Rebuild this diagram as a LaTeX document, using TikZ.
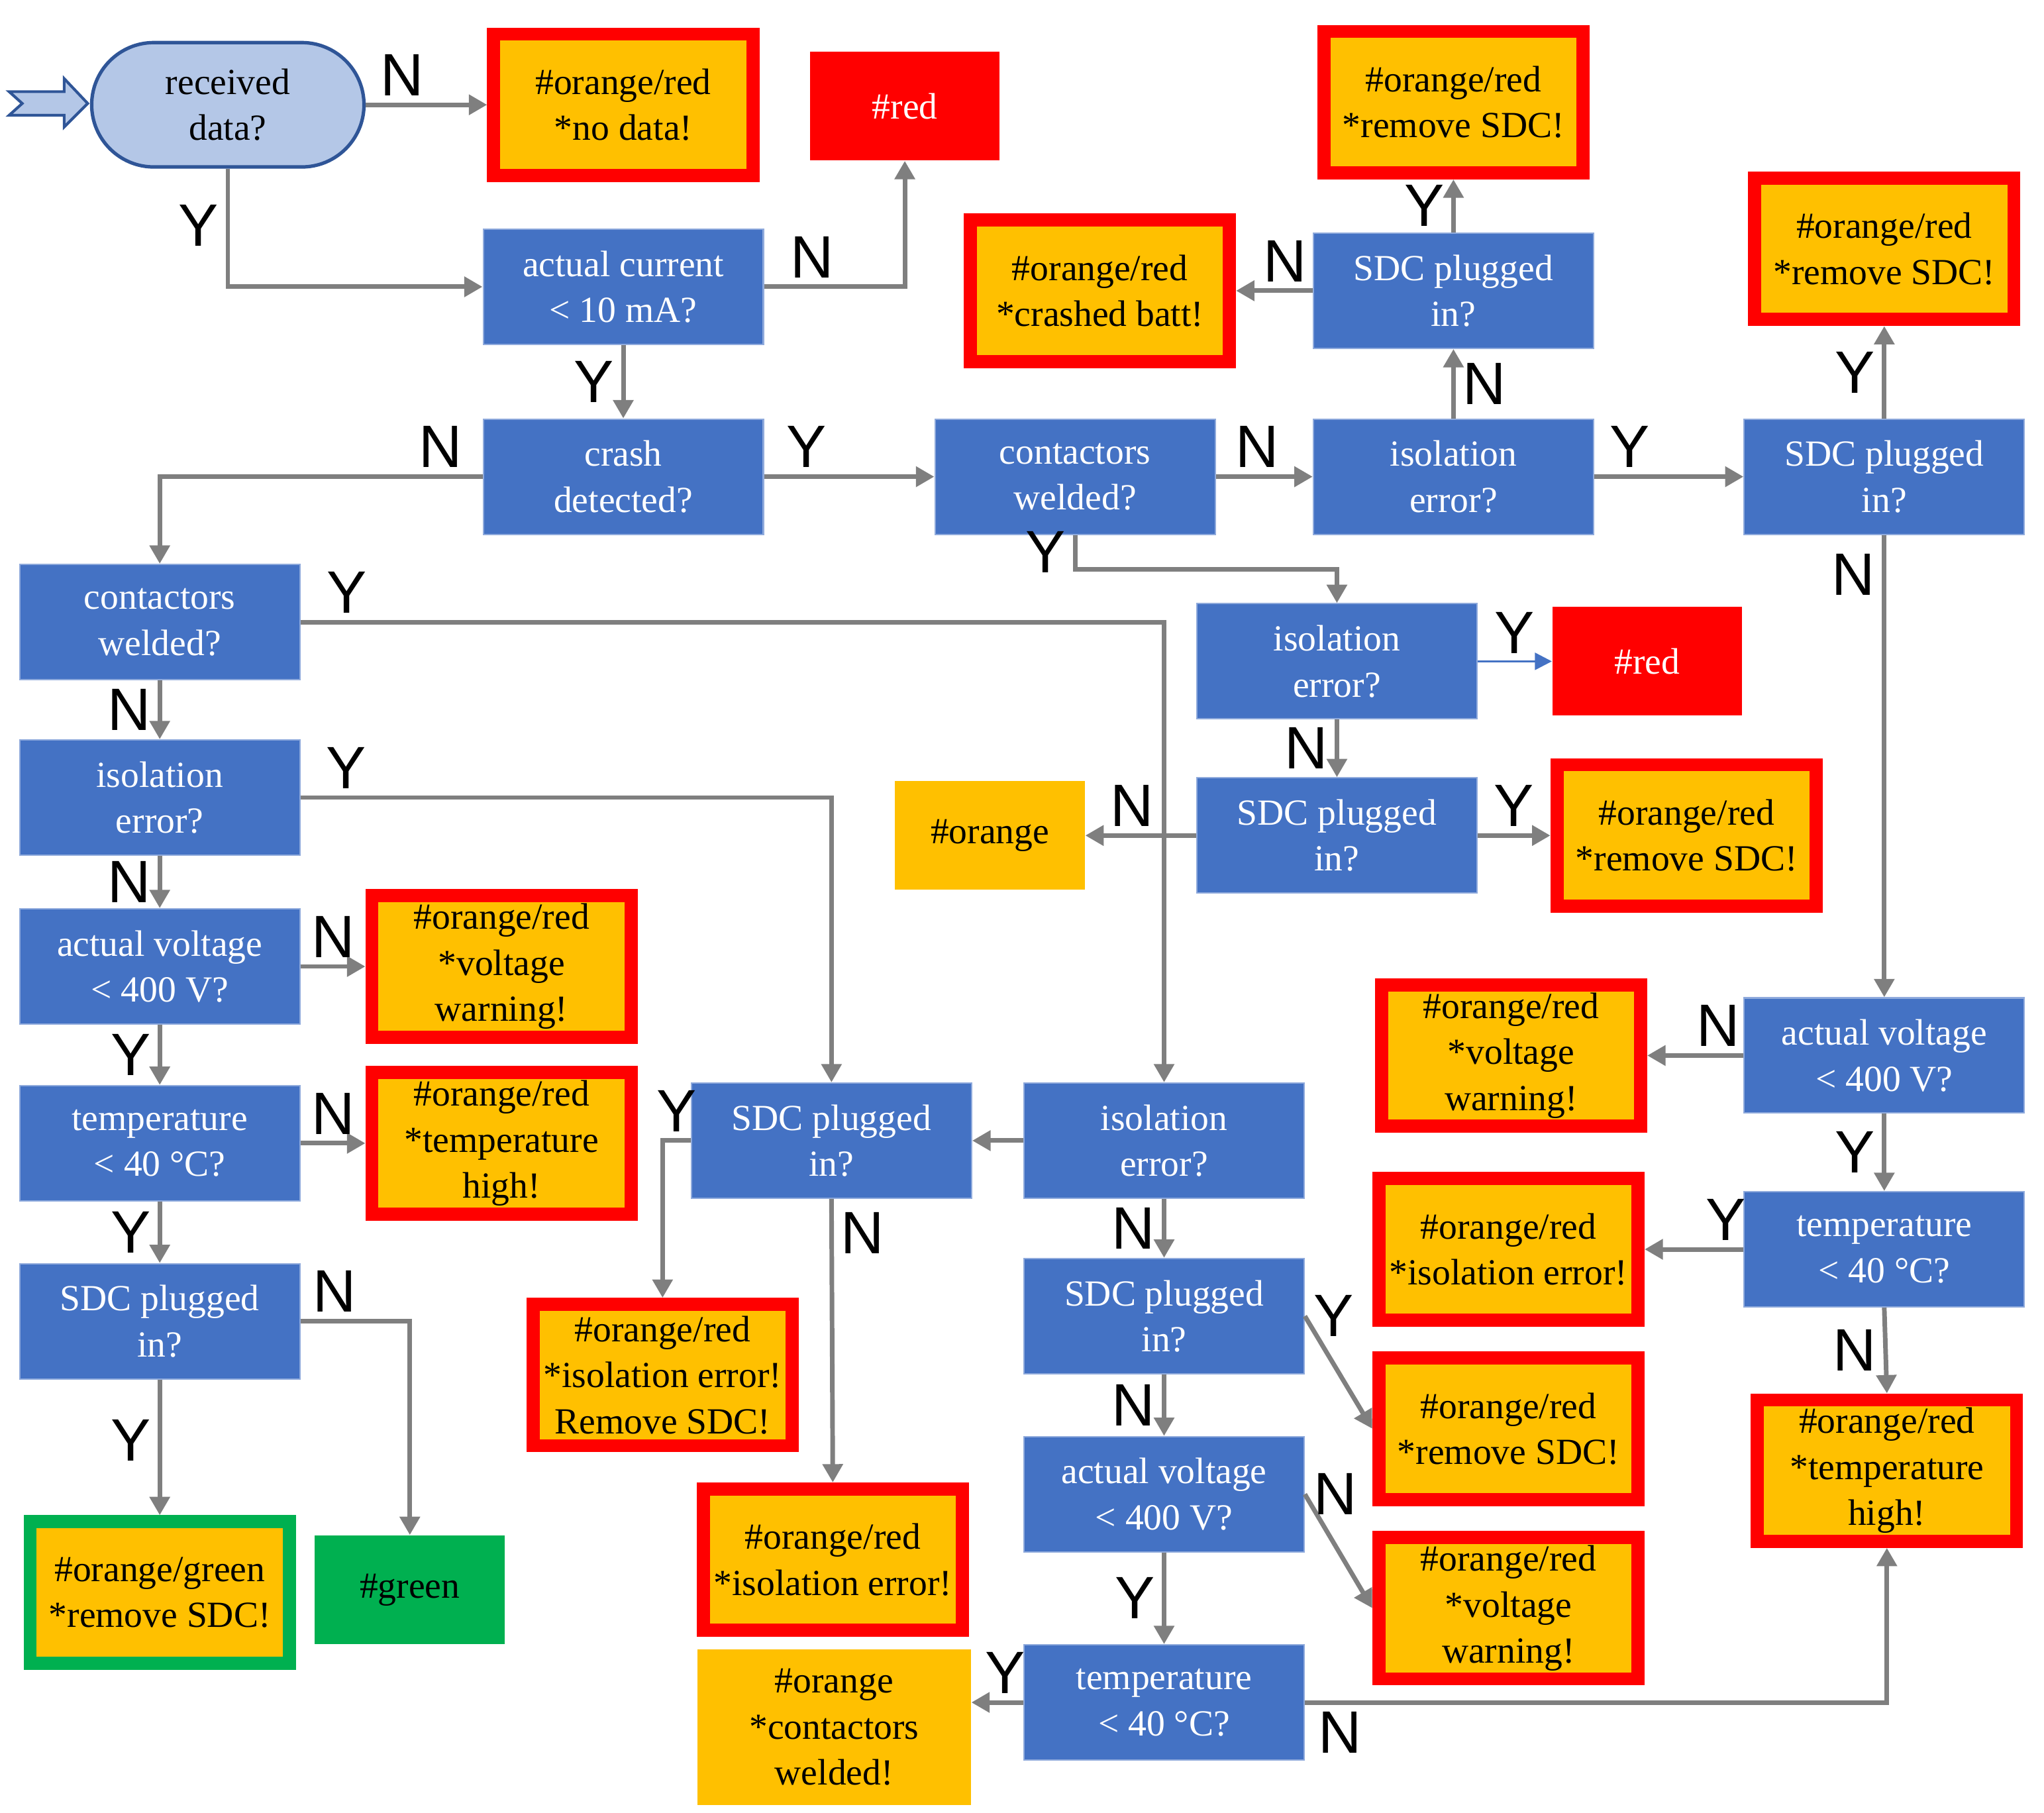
\documentclass[tikz,border=0pt]{standalone}
\usepackage{fontspec}
\setmainfont{Liberation Serif}
\newfontfamily\ynfont{Liberation Sans}
\usetikzlibrary{arrows.meta}
\definecolor{qblue}{HTML}{4472C4}
\definecolor{qedge}{HTML}{8FAADC}
\definecolor{orng}{HTML}{FFC000}
\definecolor{grn}{HTML}{00B050}
\definecolor{gry}{HTML}{7F7F7F}
\definecolor{startfill}{HTML}{B4C7E7}
\definecolor{startedge}{HTML}{2F5597}
\begin{document}
\begin{tikzpicture}[x=0.02cm,y=-0.02cm,
	q/.style={rectangle,fill=qblue,draw=qedge,line width=0.6pt,text=white,
		minimum width=4.28cm,minimum height=1.76cm,inner sep=0pt,align=center,
		font=\fontsize{16}{20}\selectfont},
	warn/.style={rectangle,fill=orng,draw=red,line width=0.2cm,
		minimum width=3.96cm,minimum height=2.16cm,inner sep=0pt,align=center,
		font=\fontsize{16}{20}\selectfont},
	flag/.style={rectangle,minimum width=2.9cm,minimum height=1.66cm,inner sep=0pt,
		align=center,font=\fontsize{16}{20}\selectfont},
	lbl/.style={font={\fontsize{26}{26}\ynfont},inner sep=3pt},
	arr/.style={draw=gry,line width=2pt,-{Triangle[length=0.28cm,width=0.3cm]}}]
	\useasboundingbox (0,0) rectangle (1561,1384);
	\draw[startedge,fill=startfill,line width=1.2pt] (7,70) -- (49,70) -- (49,60)
	-- (67,79) -- (49,97) -- (49,88) -- (7,88) -- (17,79) -- cycle;
	\node[q,fill=startfill,draw=startedge,line width=1.5pt,rounded corners=0.95cm,
		text=black,minimum width=4.16cm,minimum height=1.9cm] (recv) at (174,80) {received\\data?};
	\node[warn] (nodata) at (476,80) {\#orange/red\\*no data!};
	\node[flag,fill=red,text=white] (red1) at (691,81) {\#red};
	\node[q] (cur) at (476,219) {actual current\\< 10 mA?};
	\node[q] (crash) at (476,364) {crash\\detected?};
	\node[q] (weldA) at (821,364) {contactors\\welded?};
	\node[q] (isoA) at (1110,364) {isolation\\error?};
	\node[q] (sdcA) at (1110,222) {SDC plugged\\in?};
	\node[warn] (remA) at (1110,78) {\#orange/red\\*remove SDC!};
	\node[warn] (batt) at (840,222) {\#orange/red\\*crashed batt!};
	\node[q] (sdcB) at (1439,364) {SDC plugged\\in?};
	\node[warn] (remB) at (1439,190) {\#orange/red\\*remove SDC!};
	\node[q] (isoB) at (1021,505) {isolation\\error?};
	\node[flag,fill=red,text=white] (red2) at (1258,505) {\#red};
	\node[q] (sdcC) at (1021,638) {SDC plugged\\in?};
	\node[flag,fill=orng] (orange) at (756,638) {\#orange};
	\node[warn] (remC) at (1288,638) {\#orange/red\\*remove SDC!};
	\node[q] (weldL) at (122,475) {contactors\\welded?};
	\node[q] (isoL) at (122,609) {isolation\\error?};
	\node[q] (voltL) at (122,738) {actual voltage\\< 400 V?};
	\node[q] (tempL) at (122,873) {temperature\\< 40 °C?};
	\node[q] (sdcL) at (122,1009) {SDC plugged\\in?};
	\node[warn,draw=grn] (okL) at (122,1216) {\#orange/green\\*remove SDC!};
	\node[flag,fill=grn] (green) at (313,1214) {\#green};
	\node[warn] (voltwL) at (383,738) {\#orange/red\\*voltage\\warning!};
	\node[warn] (tempwL) at (383,873) {\#orange/red\\*temperature\\high!};
	\node[q] (sdcD) at (635,871) {SDC plugged\\in?};
	\node[q] (isoC) at (889,871) {isolation\\error?};
	\node[warn] (isorem) at (506,1050) {\#orange/red\\*isolation error!\\Remove SDC!};
	\node[warn] (isowD) at (636,1191) {\#orange/red\\*isolation error!};
	\node[q] (sdcE) at (889,1005) {SDC plugged\\in?};
	\node[q] (voltD) at (889,1141) {actual voltage\\< 400 V?};
	\node[q] (tempD) at (889,1300) {temperature\\< 40 °C?};
	\node[flag,fill=orng,minimum width=4.18cm,minimum height=2.38cm] (weldw) at (637,1319)
	{\#orange\\*contactors\\welded!};
	\node[warn] (remD) at (1152,1091) {\#orange/red\\*remove SDC!};
	\node[warn] (voltwD) at (1152,1228) {\#orange/red\\*voltage\\warning!};
	\node[q] (voltR) at (1439,806) {actual voltage\\< 400 V?};
	\node[q] (tempR) at (1439,954) {temperature\\< 40 °C?};
	\node[warn] (tempwR) at (1441,1123) {\#orange/red\\*temperature\\high!};
	\node[warn] (voltwR) at (1154,806) {\#orange/red\\*voltage\\warning!};
	\node[warn] (isowR) at (1152,954) {\#orange/red\\*isolation error!};
	\draw[arr] (recv.east) -- node[lbl,pos=.3,above] {N} (nodata.west);
	\draw[arr] (recv.south) |- node[lbl,pos=.24,left] {Y} (cur.west);
	\draw[arr] (cur.east) -| node[lbl,pos=.17,above] {N} (red1.south);
	\draw[arr] (cur.south) -- node[lbl,left] {Y} (crash.north);
	\draw[arr] (crash.west) -| node[lbl,pos=.065,above] {N} (weldL.north);
	\draw[arr] (crash.east) -- node[lbl,pos=.25,above] {Y} (weldA.west);
	\draw[arr] (weldA.east) -- node[lbl,pos=.43,above] {N} (isoA.west);
	\draw[arr] (isoA.north) -- node[lbl,right] {N} (sdcA.south);
	\draw[arr] (sdcA.north) -- node[lbl,left] {Y} (remA.south);
	\draw[arr] (sdcA.west) -- node[lbl,pos=.36,above] {N} (batt.east);
	\draw[arr] (isoA.east) -- node[lbl,pos=.24,above] {Y} (sdcB.west);
	\draw[arr] (sdcB.north) -- node[lbl,left] {Y} (remB.south);
	\draw[arr] (sdcB.south) -- node[lbl,pos=.085,left] {N} (voltR.north);
	\draw[arr] (weldA.south) -- node[lbl,left] {Y} ++(0,26) -| (isoB.north);
	\draw[arr,draw=qblue,line width=1pt,-{Triangle[length=0.26cm,width=0.26cm]}]
	(isoB.east) -- node[lbl,above] {Y} (red2.west);
	\draw[arr] (isoB.south) -- node[lbl,left] {N} (sdcC.north);
	\draw[arr] (sdcC.west) -- node[lbl,pos=.58,above] {N} (orange.east);
	\draw[arr] (sdcC.east) -- node[lbl,above] {Y} (remC.west);
	\draw[arr] (weldL.east) -| node[lbl,pos=.027,above] {Y} (isoC.north);
	\draw[arr] (isoL.east) -| node[lbl,pos=.043,above] {Y} (sdcD.north);
	\foreach \a/\b/\t in {weldL/isoL/N,isoL/voltL/N,voltL/tempL/Y,tempL/sdcL/Y}
	\draw[arr] (\a.south) -- node[lbl,left] {\t} (\b.north);
	\foreach \a/\b in {voltL/voltwL,tempL/tempwL}
	\draw[arr] (\a.east) -- node[lbl,above] {N} (\b.west);
	\draw[arr] (sdcL.south) -- node[lbl,pos=.45,left] {Y} (okL.north);
	\draw[arr] (sdcL.east) -| node[lbl,pos=.155,above] {N} (green.north);
	\draw[arr] (isoC.west) -- (sdcD.east);
	\draw[arr] (sdcD.west) -| node[lbl,pos=.25,above] {Y} (isorem.north);
	\draw[arr] (sdcD.south) -- node[lbl,pos=.12,right] {N} (isowD.north);
	\draw[arr] (isoC.south) -- node[lbl,left] {N} (sdcE.north);
	\draw[arr] (sdcE.east) -- node[lbl,pos=0,right] {Y} (remD.west);
	\draw[arr] (sdcE.south) -- node[lbl,left] {N} (voltD.north);
	\draw[arr] (voltD.east) -- node[lbl,pos=0,right] {N} (voltwD.west);
	\draw[arr] (voltD.south) -- node[lbl,left] {Y} (tempD.north);
	\draw[arr] (tempD.west) -- node[lbl,pos=.35,above] {Y} (tempD.west -| weldw.east);
	\draw[arr] (tempD.east) -| node[lbl,pos=.03,below] {N} (tempwR.south);
	\draw[arr] (voltR.west) -- node[lbl,pos=.26,above] {N} (voltwR.east);
	\draw[arr] (voltR.south) -- node[lbl,left] {Y} (tempR.north);
	\draw[arr] (tempR.west) -- node[lbl,pos=.18,above] {Y} (isowR.east);
	\draw[arr] (tempR.south) -- node[lbl,left] {N} (tempwR.north);
\end{tikzpicture}
\end{document}
